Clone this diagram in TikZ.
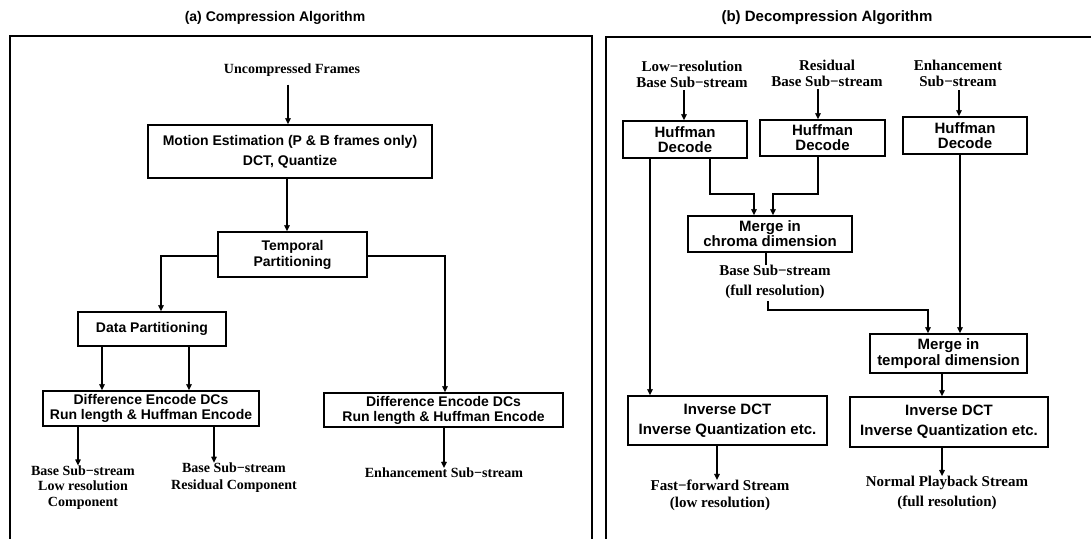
\documentclass[tikz,border=0pt]{standalone}
\usepackage{fontspec}
\setmainfont{Liberation Serif}
\setsansfont{Liberation Sans}
\usetikzlibrary{arrows.meta,calc}
\tikzset{
  frame/.style={line width=2.6pt},
  box/.style={draw, line width=1.6pt, inner sep=0pt, align=center, anchor=center},
  lboxfont/.style={font=\sffamily\bfseries\fontsize{14}{15}\selectfont},
  rboxfont/.style={font=\sffamily\bfseries\fontsize{15}{15}\selectfont},
  lbl/.style={inner sep=0pt, align=center, anchor=center},
  llbl/.style={font=\bfseries\fontsize{14}{15.5}\selectfont},
  rlbl/.style={font=\bfseries\fontsize{15}{16}\selectfont},
  ttl/.style={inner sep=0pt, font=\sffamily\bfseries},
  conn/.style={line width=1.4pt},
  arr/.style={line width=1.4pt, -{Straight Barb[length=4.5pt,width=4.5pt]}}
}
\begin{document}
\begin{tikzpicture}[x=1pt,y=-1pt]
\useasboundingbox (0,0) rectangle (1091,538);
% titles
\node[ttl, font=\sffamily\bfseries\fontsize{14}{15}\selectfont] (ta) at (275,18) {(a) Compression Algorithm};
\node[ttl, font=\sffamily\bfseries\fontsize{15}{16}\selectfont] (tb) at (827,18) {(b) Decompression Algorithm};
% frames
\draw[frame] (10,545) -- (10,36) -- (592,36) -- (592,545);
\draw[frame] (606,545) -- (606,37) -- (1100,37);

% ---------- left panel ----------
\node[lbl, llbl] (unc) at (292,70) {Uncompressed Frames};
\node[box, lboxfont, minimum width=284pt, minimum height=53pt] (motion) at (290,151.5)
  {Motion Estimation (P \& B frames only)\\[5pt]DCT, Quantize};
\node[box, lboxfont, minimum width=149pt, minimum height=45pt, font=\sffamily\bfseries\fontsize{14}{16}\selectfont] (temporal) at (292.5,254.5)
  {Temporal\\Partitioning};
\node[box, lboxfont, minimum width=148pt, minimum height=34pt] (datapart) at (152,329) {Data Partitioning};
\node[box, lboxfont, minimum width=216pt, minimum height=35pt] (diffL) at (151,408.5)
  {Difference Encode DCs\\Run length \& Huffman Encode};
\node[box, lboxfont, minimum width=239pt, minimum height=34pt] (diffR) at (443.5,410)
  {Difference Encode DCs\\Run length \& Huffman Encode};
\node[lbl, llbl] (lowres) at (83,487.5) {Base Sub−stream\\Low resolution\\Component};
\node[lbl, llbl, font=\bfseries\fontsize{14}{16.5}\selectfont] (resid) at (234,477.5) {Base Sub−stream\\Residual Component};
\node[lbl, llbl] (enh) at (444,473) {Enhancement Sub−stream};

\draw[arr] ([xshift=-2pt]motion.north |- unc.south) ++(0,8) -- ([xshift=-2pt]motion.north);
\draw[arr] ([xshift=-3pt]motion.south) -- ([xshift=-3pt]motion.south |- temporal.north);
\draw[arr] ([yshift=-1.5pt]temporal.west) -| ([xshift=9pt]datapart.north);
\draw[arr] ([yshift=-1.5pt]temporal.east) -| ([xshift=1.5pt]diffR.north);
\draw[arr] ([xshift=-50pt]datapart.south) -- ([xshift=-50pt]datapart.south |- diffL.north);
\draw[arr] ([xshift=37pt]datapart.south) -- ([xshift=37pt]datapart.south |- diffL.north);
\draw[arr] ([xshift=-73pt]diffL.south) -- ([xshift=-73pt]diffL.south |- lowres.north);
\draw[arr] ([xshift=63pt]diffL.south) -- ([xshift=63pt]diffL.south |- resid.north);
\draw[arr] ([xshift=0.5pt]diffR.south) -- ([xshift=0.5pt]diffR.south |- enh.north);

% ---------- right panel ----------
\node[lbl, rlbl] (lr) at (692,74) {Low−resolution\\Base Sub−stream};
\node[lbl, rlbl] (rs) at (827,73) {Residual\\Base Sub−stream};
\node[lbl, rlbl] (en) at (958,73.5) {Enhancement\\Sub−stream};
\node[box, rboxfont, minimum width=124pt, minimum height=37pt] (h1) at (685,139.5) {Huffman\\Decode};
\node[box, rboxfont, minimum width=125pt, minimum height=36pt] (h2) at (822.5,138) {Huffman\\Decode};
\node[box, rboxfont, minimum width=124pt, minimum height=37pt] (h3) at (965,135.5) {Huffman\\Decode};
\node[box, rboxfont, minimum width=164pt, minimum height=36pt, font=\sffamily\bfseries\fontsize{15}{14}\selectfont] (mc) at (770,234) {Merge in\\chroma dimension};
\node[lbl, rlbl, font=\bfseries\fontsize{15}{20}\selectfont] (bsf) at (775,282) {Base Sub−stream\\(full resolution)};
\node[box, rboxfont, minimum width=157pt, minimum height=39pt, font=\sffamily\bfseries\fontsize{15}{16}\selectfont] (mt) at (948.5,353.5) {Merge in\\temporal dimension};
\node[box, rboxfont, minimum width=199pt, minimum height=49pt] (i1) at (727.5,420.5) {Inverse DCT\\[5pt]Inverse Quantization etc.};
\node[box, rboxfont, minimum width=198pt, minimum height=50pt] (i2) at (949,422) {Inverse DCT\\[5pt]Inverse Quantization etc.};
\node[lbl, rlbl, font=\bfseries\fontsize{15}{17}\selectfont] (ff) at (720,495.5) {Fast−forward Stream\\(low resolution)};
\node[lbl, rlbl, font=\bfseries\fontsize{15}{20}\selectfont] (np) at (947,493) {Normal Playback Stream\\(full resolution)};

\draw[arr, shorten <=3pt] ([xshift=-1pt]h1.north |- lr.south) -- ([xshift=-1pt]h1.north);
\draw[arr, shorten <=3pt] ([xshift=-4.5pt]h2.north |- rs.south) -- ([xshift=-4.5pt]h2.north);
\draw[arr, shorten <=3pt] ([xshift=-6pt]h3.north |- en.south) -- ([xshift=-6pt]h3.north);
\draw[arr] ([xshift=25pt]h1.south) -- ++(0,35) -| ([xshift=-16pt]mc.north);
\draw[arr] ([xshift=-4.5pt]h2.south) -- ++(0,37) -| ([xshift=3pt]mc.north);
\draw[arr] ([xshift=-35pt]h1.south) -- ([xshift=-35pt]h1.south |- i1.north);
\draw[conn] ([xshift=-4pt]mc.south) -- ([xshift=-4pt]mc.south |- bsf.north);
\draw[arr, shorten <=2pt] ([xshift=-7pt]bsf.south) -- ++(0,11) -| ([xshift=-20.5pt]mt.north);
\draw[arr] ([xshift=-5pt]h3.south) -- ([xshift=-5pt]h3.south |- mt.north);
\draw[arr] ([xshift=-6.5pt]mt.south) -- ([xshift=-6.5pt]mt.south |- i2.north);
\draw[arr] ([xshift=-10.5pt]i1.south) -- ([xshift=-10.5pt]i1.south |- ff.north);
\draw[arr] ([xshift=-7pt]i2.south) -- ([xshift=-7pt]i2.south |- np.north);
\end{tikzpicture}
\end{document}
